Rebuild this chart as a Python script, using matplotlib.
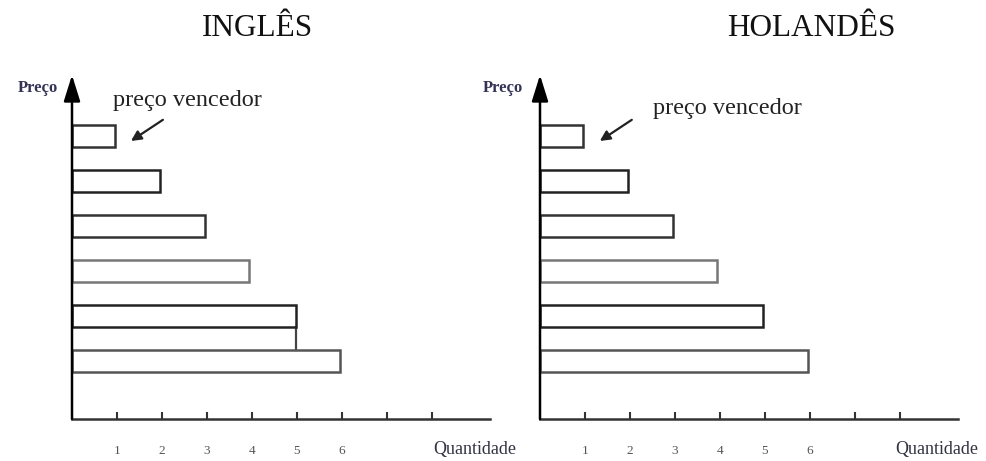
import matplotlib
matplotlib.use("Agg")
import matplotlib.pyplot as plt

# ---- data ----
titles = ["INGLÊS", "HOLANDÊS"]
price_levels = [6, 5, 4, 3, 2, 1]          # top bar = highest price
quant_ingles = [0.96, 1.96, 2.96, 3.93, 4.98, 5.96]
quant_holandes = [0.96, 1.96, 2.96, 3.93, 4.96, 5.96]
tick_positions = [1, 2, 3, 4, 5, 6, 7, 8]
tick_labels = ["1", "2", "3", "4", "5", "6", "", ""]
annot_text = "preço vencedor"
ylabel_text = "Preço"
xlabel_text = "Quantidade"
edge_colors = ["#333333", "#222222", "#333333", "#777777", "#222222", "#555555"]

W, H = 987, 461
fig = plt.figure(figsize=(W / 100, H / 100), dpi=100)
serif = ["Liberation Serif", "DejaVu Serif"]

ymin, ymax = -0.289, 7.356
xmax = 418 / 45

panels = [
    dict(left=72, title=titles[0], q=quant_ingles, connector=True,
         annot_xy=(0.91, 6.80), arrow_tail=(2.02, 6.36), arrow_head=(1.31, 5.89),
         title_x=4.13, quant_x=8.02, preco_px=(18, 88)),
    dict(left=540, title=titles[1], q=quant_holandes, connector=False,
         annot_xy=(2.51, 6.62), arrow_tail=(2.04, 6.36), arrow_head=(1.33, 5.89),
         title_x=6.04, quant_x=7.90, preco_px=(483, 88)),
]

for p in panels:
    ax = fig.add_axes([p["left"] / W, (H - 419) / H, 418 / W, 344 / H])
    ax.set_xlim(0, xmax)
    ax.set_ylim(ymin, ymax)
    ax.patch.set_alpha(0)
    for s in ["top", "right", "left"]:
        ax.spines[s].set_visible(False)
    ax.spines["bottom"].set_linewidth(1.8)
    ax.spines["bottom"].set_color("#333333")

    ax.barh(price_levels, p["q"], height=0.49, left=0, fill=False,
            edgecolor=edge_colors, linewidth=1.8, zorder=3)

    if p["connector"]:
        # vertical line from bar 5's right edge down to bar 6
        ax.plot([p["q"][4], p["q"][4]], [price_levels[5] + 0.245, price_levels[4] - 0.245],
                color="#444444", lw=1.6)

    # y axis with arrow
    ax.annotate("", xy=(0, ymax), xytext=(0, ymin), xycoords="data",
                arrowprops=dict(arrowstyle="-|>,head_length=1.6,head_width=0.5",
                                color="black", lw=1.8, shrinkA=0, shrinkB=0),
                annotation_clip=False)

    ax.set_xticks(tick_positions)
    ax.set_xticklabels(tick_labels, fontfamily=serif, fontsize=9.5, color="#555555")
    ax.tick_params(axis="x", direction="in", length=5, width=1.5, color="#333333", pad=19)
    ax.set_yticks([])

    ax.text(p["title_x"], 8.4, p["title"], ha="center", va="center",
            fontfamily=serif, fontsize=22.5, color="#111111", clip_on=False)
    ax.text(p["annot_xy"][0], p["annot_xy"][1], annot_text, ha="left", va="center",
            fontfamily=serif, fontsize=17.5, color="#222222", clip_on=False)
    ax.annotate("", xy=p["arrow_head"], xytext=p["arrow_tail"],
                arrowprops=dict(arrowstyle="-|>,head_length=0.6,head_width=0.3",
                                color="#222222", lw=1.6, shrinkA=0, shrinkB=0),
                annotation_clip=False)
    ax.text(p["quant_x"], -0.289 - 31 / 45, xlabel_text, ha="left", va="center",
            fontfamily=serif, fontsize=13, color="#333344", clip_on=False)
    fig.text(p["preco_px"][0] / W, 1 - p["preco_px"][1] / H, ylabel_text, ha="left",
             va="center", fontfamily=serif, fontsize=12, color="#333355",
             fontweight="bold")

fig.savefig("out.png", dpi=100, facecolor="white")
